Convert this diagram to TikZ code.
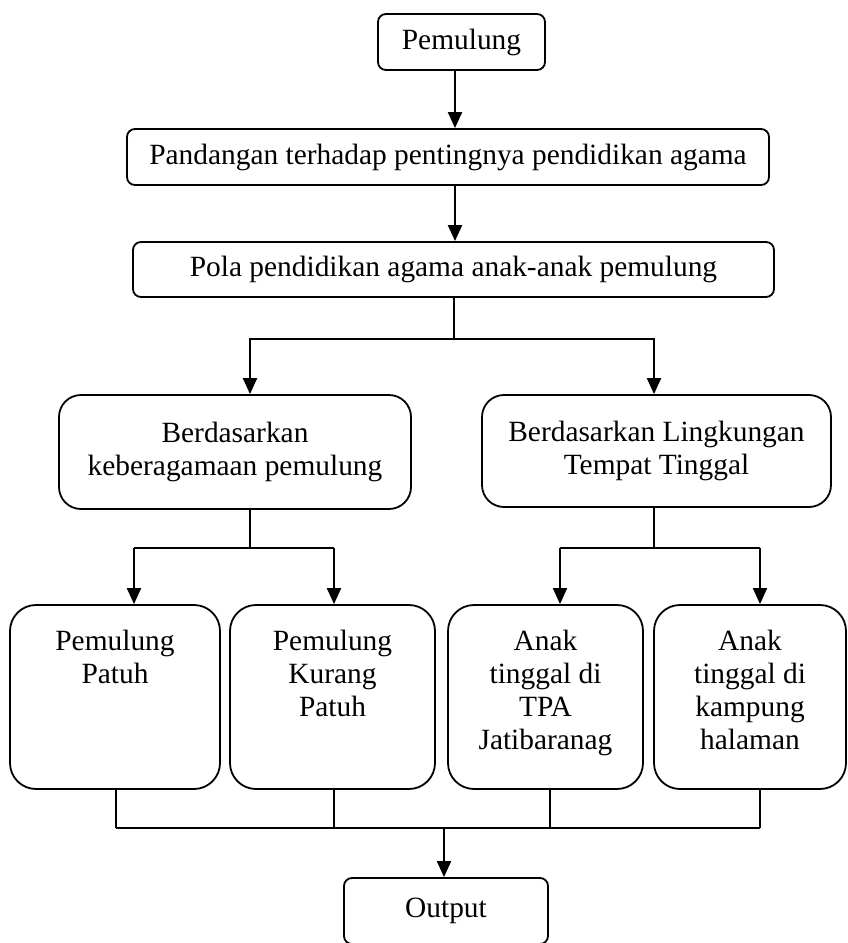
\documentclass[tikz,border=0pt]{standalone}
\usepackage{fontspec}
\setmainfont{Liberation Serif}
\usetikzlibrary{arrows.meta}
\begin{document}
\begin{tikzpicture}[x=1bp,y=-1bp,
  box/.style={draw,line width=1.8bp,inner sep=0pt,align=center,
    font=\fontsize{29.5}{33.3}\selectfont},
  smallbox/.style={box,rounded corners=8bp},
  midbox/.style={box,rounded corners=22bp},
  lowbox/.style={box,rounded corners=26bp,minimum height=184bp},
  arr/.style={line width=2bp,-{Triangle[width=14bp,length=16bp]}},
  ln/.style={line width=1.2bp},
  lnh/.style={line width=2bp}
]
\useasboundingbox (0,0) rectangle (848,943);
\clip (0,0) rectangle (848,943);

\newcommand{\lowtext}[2]{\parbox[c][140bp][t]{#1}{\centering\strut #2}}

\node[smallbox,minimum width=167bp,minimum height=56bp] (p1) at (461.5,42) {Pemulung};
\node[smallbox,minimum width=642bp,minimum height=56bp] (p2) at (448,157) {Pandangan terhadap pentingnya pendidikan agama};
\node[smallbox,minimum width=641bp,minimum height=55bp] (p3) at (453.5,269.5) {\raisebox{-2bp}{Pola pendidikan agama anak-anak pemulung}};

\node[midbox,minimum width=352bp,minimum height=114bp] (m1) at (235,452) {Berdasarkan\\keberagamaan pemulung};
\node[midbox,minimum width=349bp,minimum height=112bp] (m2) at (656.5,451) {Berdasarkan Lingkungan\\Tempat Tinggal};

\node[lowbox,minimum width=210bp] (b1) at (115,697) {\lowtext{200bp}{Pemulung\\Patuh}};
\node[lowbox,minimum width=205bp] (b2) at (332.5,697) {\lowtext{195bp}{Pemulung\\Kurang\\Patuh}};
\node[lowbox,minimum width=195bp] (b3) at (545.5,697) {\lowtext{185bp}{Anak\\tinggal di\\TPA\\Jatibaranag}};
\node[lowbox,minimum width=192bp] (b4) at (750,697) {\lowtext{182bp}{Anak\\tinggal di\\kampung\\halaman}};

\node[smallbox,minimum width=204bp,minimum height=66bp] (out) at (446,911) {Output};

% top chain
\coordinate (xa) at (455,0);
\draw[arr] (p1.south -| xa) -- (p2.north -| xa);
\draw[arr] (p2.south -| xa) -- (p3.north -| xa);

% first split
\coordinate (s1) at (454,339);
\coordinate (xl) at (250,0);
\coordinate (xr) at (654,0);
\draw[ln] (p3.south -| s1) -- (s1);
\draw[arr] (s1) -| (m1.north -| xl);
\draw[arr] (s1) -| (m2.north -| xr);

% second splits
\coordinate (s2) at (250,548);
\coordinate (s3) at (654,548);
\coordinate (xb1) at (134,0);
\coordinate (xb2) at (334,0);
\coordinate (xb3) at (560,0);
\coordinate (xb4) at (760,0);
\draw[ln] (m1.south -| s2) -- (s2);
\draw[ln] (m2.south -| s3) -- (s3);
\draw[lnh] (xb1 |- s2) -- (xb2 |- s2);
\draw[lnh] (xb3 |- s3) -- (xb4 |- s3);
\draw[arr] (xb1 |- s2) -- (b1.north -| xb1);
\draw[arr] (xb2 |- s2) -- (b2.north -| xb2);
\draw[arr] (xb3 |- s3) -- (b3.north -| xb3);
\draw[arr] (xb4 |- s3) -- (b4.north -| xb4);

% merge
\coordinate (j) at (444,828);
\coordinate (xs1) at (116,0);
\coordinate (xs2) at (334,0);
\coordinate (xs3) at (550,0);
\coordinate (xs4) at (760,0);
\draw[ln] (b1.south -| xs1) -- (xs1 |- j);
\draw[ln] (b2.south -| xs2) -- (xs2 |- j);
\draw[ln] (b3.south -| xs3) -- (xs3 |- j);
\draw[ln] (b4.south -| xs4) -- (xs4 |- j);
\draw[lnh] (xs1 |- j) -- (xs4 |- j);
\draw[arr] (j) -- (out.north -| j);
\end{tikzpicture}
\end{document}
